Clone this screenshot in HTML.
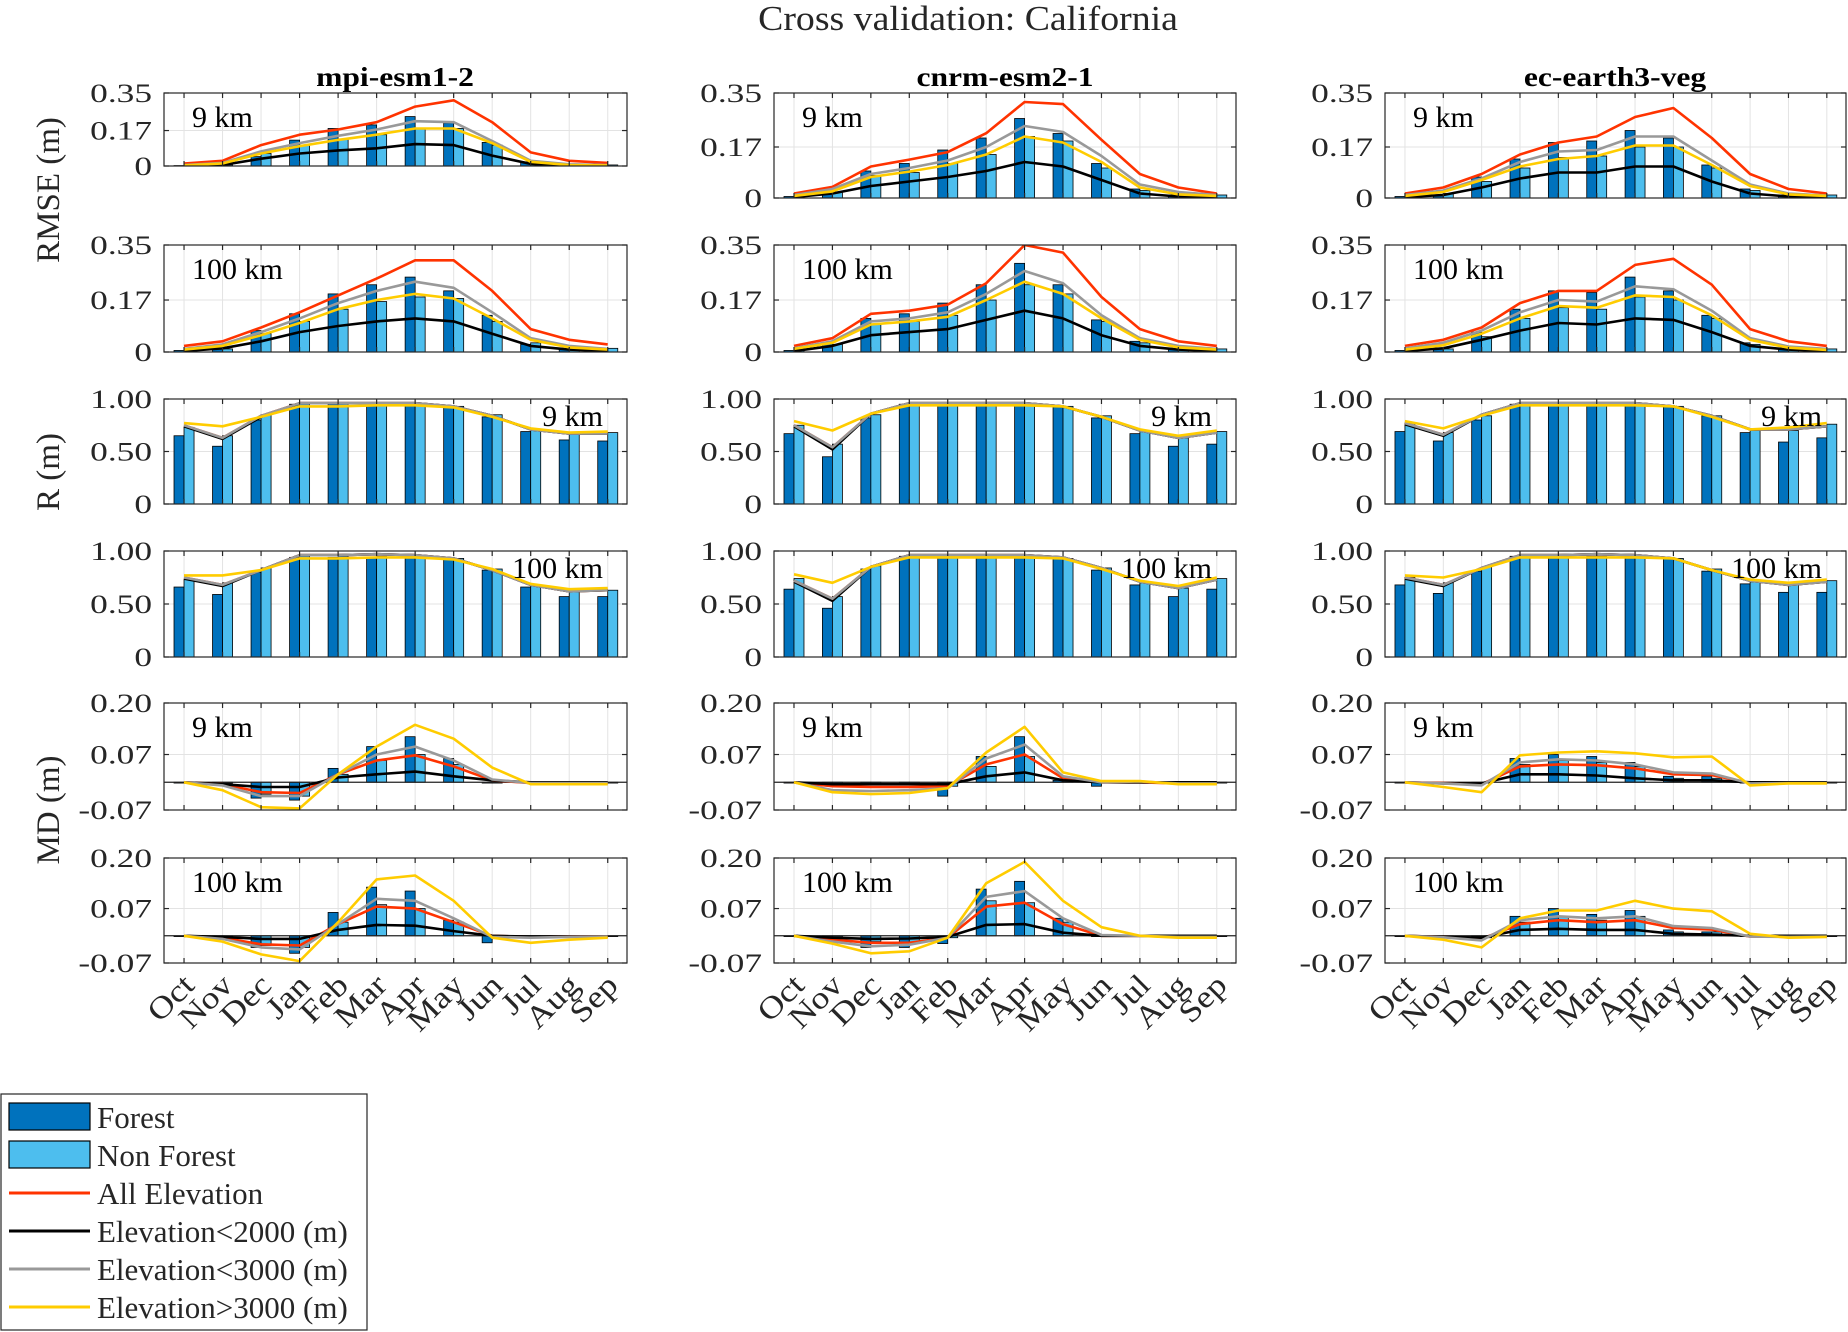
<!DOCTYPE html>
<html><head><meta charset="utf-8"><style>
body{margin:0;background:#fff;}
svg{display:block;font-family:"Liberation Serif",serif;}
</style></head><body>
<svg id="fig" width="1848" height="1332" viewBox="0 0 1848 1332" xmlns="http://www.w3.org/2000/svg">
<text transform="translate(968,30) scale(1.08,1)" font-size="35" text-anchor="middle" fill="#262626">Cross validation: California</text>
<text transform="translate(395,86) scale(1.17,1)" font-size="27" font-weight="bold" text-anchor="middle" fill="#000">mpi-esm1-2</text>
<text transform="translate(1005,86) scale(1.17,1)" font-size="27" font-weight="bold" text-anchor="middle" fill="#000">cnrm-esm2-1</text>
<text transform="translate(1615,86) scale(1.17,1)" font-size="27" font-weight="bold" text-anchor="middle" fill="#000">ec-earth3-veg</text>
<text transform="translate(59,190) rotate(-90)" font-size="33" text-anchor="middle" fill="#262626">RMSE (m)</text>
<text transform="translate(59,472) rotate(-90)" font-size="33" text-anchor="middle" fill="#262626">R (m)</text>
<text transform="translate(59,810) rotate(-90)" font-size="33" text-anchor="middle" fill="#262626">MD (m)</text>
<g id="panels"></g>
<g>
<rect x="1" y="1094" width="366" height="236" fill="#fff" stroke="#262626" stroke-width="1.2"/>
<g><rect x="9" y="1103" width="81" height="27" fill="#0072BD" stroke="#000" stroke-width="1.2"/><text x="97" y="1128" font-size="31" fill="#262626">Forest</text></g>
<g><rect x="9" y="1141" width="81" height="27" fill="#4DBEEE" stroke="#000" stroke-width="1.2"/><text x="97" y="1166" font-size="31" fill="#262626">Non Forest</text></g>
<g><line x1="9" y1="1193" x2="90" y2="1193" stroke="#FF3300" stroke-width="3"/><text x="97" y="1204" font-size="31" fill="#262626">All Elevation</text></g>
<g><line x1="9" y1="1231" x2="90" y2="1231" stroke="#000" stroke-width="3"/><text x="97" y="1242" font-size="31" fill="#262626">Elevation&lt;2000 (m)</text></g>
<g><line x1="9" y1="1269" x2="90" y2="1269" stroke="#999" stroke-width="3"/><text x="97" y="1280" font-size="31" fill="#262626">Elevation&lt;3000 (m)</text></g>
<g><line x1="9" y1="1307" x2="90" y2="1307" stroke="#FFCC00" stroke-width="3"/><text x="97" y="1318" font-size="31" fill="#262626">Elevation&gt;3000 (m)</text></g>
</g>
</svg>
<script>
const months = ["Oct","Nov","Dec","Jan","Feb","Mar","Apr","May","Jun","Jul","Aug","Sep"];
const rmseTicks = [0,0.17,0.35];
const rmseTickLabels = ["0","0.17","0.35"];
const rTicks = [0,0.5,1];
const rTickLabels = ["0","0.50","1.00"];
const mdTicks = [-0.07,0.07,0.2];
const mdTickLabels = ["-0.07","0.07","0.20"];

// mpi-esm1-2
const mpiRmse9Forest = [0.002,0.005,0.045,0.124,0.18,0.197,0.237,0.206,0.113,0.02,0.005,0.003];
const mpiRmse9NonForest = [0.003,0.005,0.06,0.1,0.13,0.15,0.18,0.18,0.1,0.01,0.003,0.005];
const mpiRmse9All = [0.012,0.025,0.1,0.15,0.175,0.21,0.285,0.315,0.21,0.065,0.025,0.015];
const mpiRmse9Lt2000 = [0,0.005,0.035,0.06,0.075,0.085,0.105,0.1,0.05,0.01,0,0];
const mpiRmse9Lt3000 = [0.005,0.015,0.07,0.11,0.145,0.175,0.215,0.21,0.12,0.025,0.008,0.005];
const mpiRmse9Gt3000 = [0.003,0.012,0.06,0.095,0.125,0.15,0.18,0.18,0.11,0.02,0.005,0.003];
const mpiRmse100Forest = [0.005,0.01,0.07,0.125,0.19,0.22,0.245,0.2,0.12,0.025,0.01,0.005];
const mpiRmse100NonForest = [0.005,0.01,0.06,0.1,0.14,0.165,0.18,0.175,0.1,0.03,0.01,0.012];
const mpiRmse100All = [0.02,0.035,0.08,0.13,0.185,0.24,0.3,0.3,0.2,0.075,0.04,0.025];
const mpiRmse100Lt2000 = [0.003,0.012,0.035,0.065,0.085,0.1,0.11,0.1,0.06,0.02,0.008,0.003];
const mpiRmse100Lt3000 = [0.01,0.025,0.065,0.11,0.16,0.2,0.23,0.21,0.13,0.045,0.02,0.01];
const mpiRmse100Gt3000 = [0.008,0.02,0.055,0.095,0.14,0.17,0.19,0.175,0.11,0.04,0.015,0.008];
const mpiR9Forest = [0.65,0.55,0.8,0.95,0.95,0.95,0.95,0.93,0.83,0.69,0.61,0.6];
const mpiR9NonForest = [0.73,0.65,0.85,0.95,0.95,0.95,0.95,0.93,0.85,0.71,0.67,0.68];
const mpiR9All = [0.75,0.63,0.84,0.96,0.96,0.96,0.96,0.93,0.84,0.71,0.67,0.67];
const mpiR9Lt2000 = [0.74,0.62,0.83,0.96,0.96,0.96,0.96,0.93,0.84,0.71,0.67,0.67];
const mpiR9Lt3000 = [0.75,0.63,0.84,0.96,0.96,0.96,0.96,0.93,0.84,0.71,0.67,0.67];
const mpiR9Gt3000 = [0.77,0.74,0.83,0.93,0.93,0.94,0.94,0.92,0.83,0.72,0.68,0.69];
const mpiR100Forest = [0.66,0.59,0.8,0.94,0.94,0.94,0.94,0.93,0.82,0.66,0.57,0.57];
const mpiR100NonForest = [0.73,0.7,0.84,0.95,0.95,0.95,0.95,0.93,0.83,0.68,0.62,0.63];
const mpiR100All = [0.75,0.68,0.82,0.96,0.96,0.97,0.96,0.93,0.82,0.68,0.62,0.63];
const mpiR100Lt2000 = [0.74,0.67,0.82,0.96,0.96,0.97,0.96,0.93,0.82,0.68,0.62,0.63];
const mpiR100Lt3000 = [0.75,0.68,0.82,0.96,0.96,0.97,0.96,0.93,0.82,0.68,0.62,0.63];
const mpiR100Gt3000 = [0.77,0.77,0.82,0.93,0.93,0.94,0.94,0.92,0.83,0.69,0.64,0.65];
const mpiMd9Forest = [0,0,-0.04,-0.045,0.035,0.09,0.115,0.06,0,0,0,0];
const mpiMd9NonForest = [0,0,-0.03,-0.035,0.02,0.055,0.07,0.045,0,0,0,0];
const mpiMd9All = [0,-0.005,-0.025,-0.027,0.02,0.055,0.068,0.04,0.005,-0.002,-0.002,-0.002];
const mpiMd9Lt2000 = [0,-0.005,-0.012,-0.012,0.012,0.02,0.027,0.015,0.005,0,0,0];
const mpiMd9Lt3000 = [0,-0.008,-0.035,-0.035,0.02,0.07,0.09,0.055,0.007,-0.002,-0.002,-0.002];
const mpiMd9Gt3000 = [0,-0.02,-0.063,-0.066,0.02,0.09,0.145,0.11,0.037,-0.005,-0.005,-0.005];
const mpiMd100Forest = [0,0,-0.03,-0.045,0.06,0.125,0.115,0.04,-0.018,0,0,0];
const mpiMd100NonForest = [0,0,-0.025,-0.03,0.035,0.08,0.07,0.035,0,0,0,0];
const mpiMd100All = [0,-0.005,-0.022,-0.025,0.03,0.075,0.07,0.035,0,-0.003,-0.002,-0.002];
const mpiMd100Lt2000 = [0,-0.003,-0.008,-0.008,0.015,0.028,0.026,0.012,0,-0.002,-0.002,-0.002];
const mpiMd100Lt3000 = [0,-0.008,-0.03,-0.035,0.03,0.095,0.09,0.045,-0.003,-0.005,-0.003,-0.002];
const mpiMd100Gt3000 = [0,-0.015,-0.048,-0.065,0.035,0.145,0.155,0.09,-0.005,-0.018,-0.01,-0.005];

// cnrm-esm2-1
const cnrmRmse9Forest = [0.005,0.02,0.09,0.115,0.16,0.2,0.265,0.215,0.115,0.03,0.01,0.005];
const cnrmRmse9NonForest = [0.005,0.02,0.075,0.085,0.115,0.145,0.205,0.19,0.1,0.025,0.01,0.01];
const cnrmRmse9All = [0.015,0.037,0.105,0.128,0.153,0.216,0.32,0.313,0.194,0.08,0.035,0.015];
const cnrmRmse9Lt2000 = [0.003,0.015,0.04,0.055,0.07,0.09,0.12,0.105,0.06,0.015,0.005,0.002];
const cnrmRmse9Lt3000 = [0.01,0.03,0.08,0.1,0.125,0.17,0.24,0.22,0.14,0.045,0.02,0.01];
const cnrmRmse9Gt3000 = [0.007,0.022,0.07,0.088,0.11,0.145,0.205,0.185,0.12,0.035,0.012,0.007];
const cnrmRmse100Forest = [0.005,0.03,0.11,0.125,0.16,0.22,0.29,0.22,0.105,0.035,0.01,0.005];
const cnrmRmse100NonForest = [0.005,0.025,0.09,0.1,0.12,0.17,0.22,0.19,0.1,0.03,0.01,0.01];
const cnrmRmse100All = [0.02,0.045,0.125,0.135,0.155,0.225,0.35,0.325,0.18,0.075,0.035,0.02];
const cnrmRmse100Lt2000 = [0.003,0.02,0.055,0.065,0.075,0.105,0.135,0.11,0.055,0.02,0.008,0.003];
const cnrmRmse100Lt3000 = [0.012,0.035,0.1,0.11,0.13,0.19,0.265,0.225,0.12,0.045,0.02,0.01];
const cnrmRmse100Gt3000 = [0.01,0.03,0.09,0.1,0.115,0.17,0.23,0.19,0.11,0.04,0.015,0.008];
const cnrmR9Forest = [0.67,0.45,0.82,0.95,0.95,0.95,0.95,0.93,0.82,0.67,0.55,0.57];
const cnrmR9NonForest = [0.75,0.57,0.85,0.95,0.95,0.95,0.95,0.93,0.84,0.7,0.63,0.69];
const cnrmR9All = [0.75,0.54,0.86,0.96,0.96,0.96,0.96,0.93,0.83,0.7,0.63,0.68];
const cnrmR9Lt2000 = [0.74,0.52,0.86,0.96,0.96,0.96,0.96,0.93,0.83,0.7,0.63,0.68];
const cnrmR9Lt3000 = [0.75,0.54,0.86,0.96,0.96,0.96,0.96,0.93,0.83,0.7,0.63,0.68];
const cnrmR9Gt3000 = [0.79,0.7,0.86,0.94,0.94,0.94,0.94,0.93,0.83,0.71,0.65,0.7];
const cnrmR100Forest = [0.64,0.46,0.83,0.95,0.95,0.95,0.95,0.93,0.82,0.68,0.57,0.64];
const cnrmR100NonForest = [0.74,0.57,0.86,0.95,0.95,0.95,0.95,0.93,0.84,0.7,0.65,0.74];
const cnrmR100All = [0.72,0.55,0.85,0.96,0.96,0.96,0.96,0.94,0.84,0.71,0.65,0.73];
const cnrmR100Lt2000 = [0.71,0.53,0.85,0.96,0.96,0.96,0.96,0.94,0.84,0.71,0.65,0.73];
const cnrmR100Lt3000 = [0.72,0.55,0.85,0.96,0.96,0.96,0.96,0.94,0.84,0.71,0.65,0.73];
const cnrmR100Gt3000 = [0.78,0.7,0.85,0.94,0.94,0.94,0.94,0.93,0.83,0.72,0.67,0.75];
const cnrmMd9Forest = [0,-0.003,-0.005,-0.005,-0.035,0.065,0.115,0.005,-0.01,0,0,0];
const cnrmMd9NonForest = [0,-0.003,-0.005,-0.005,-0.01,0.04,0.065,0.005,0,0,0,0];
const cnrmMd9All = [0,-0.01,-0.012,-0.012,-0.01,0.045,0.07,0.01,0,0,-0.003,-0.003];
const cnrmMd9Lt2000 = [0,-0.005,-0.005,-0.005,-0.005,0.015,0.025,0.005,0,0,0,0];
const cnrmMd9Lt3000 = [0,-0.02,-0.022,-0.02,-0.015,0.06,0.095,0.015,0,0.002,-0.003,-0.003];
const cnrmMd9Gt3000 = [0,-0.025,-0.03,-0.027,-0.015,0.075,0.14,0.025,0.003,0.003,-0.005,-0.005];
const cnrmMd100Forest = [0,-0.003,-0.03,-0.03,-0.02,0.12,0.14,0.045,0,0,0,0];
const cnrmMd100NonForest = [0,-0.003,-0.015,-0.02,-0.005,0.09,0.085,0.035,0,0,0,0];
const cnrmMd100All = [0,-0.01,-0.018,-0.018,-0.005,0.075,0.085,0.03,0,0,-0.002,-0.002];
const cnrmMd100Lt2000 = [0,-0.005,-0.008,-0.007,-0.003,0.028,0.03,0.008,0,0,0,0];
const cnrmMd100Lt3000 = [0,-0.015,-0.027,-0.023,-0.005,0.1,0.115,0.045,0.002,0,-0.003,-0.003];
const cnrmMd100Gt3000 = [0,-0.02,-0.045,-0.04,-0.005,0.135,0.19,0.09,0.022,0,-0.005,-0.005];

// ec-earth3-veg
const ecRmse9Forest = [0.005,0.01,0.07,0.13,0.185,0.19,0.225,0.2,0.11,0.03,0.01,0.005];
const ecRmse9NonForest = [0.005,0.015,0.055,0.1,0.135,0.14,0.17,0.17,0.1,0.025,0.008,0.01];
const ecRmse9All = [0.015,0.035,0.08,0.145,0.185,0.205,0.27,0.3,0.2,0.08,0.03,0.015];
const ecRmse9Lt2000 = [0.003,0.01,0.035,0.065,0.085,0.085,0.105,0.105,0.055,0.015,0.005,0.002];
const ecRmse9Lt3000 = [0.01,0.025,0.065,0.12,0.155,0.16,0.205,0.205,0.125,0.045,0.015,0.008];
const ecRmse9Gt3000 = [0.007,0.02,0.06,0.105,0.13,0.14,0.175,0.175,0.11,0.04,0.012,0.007];
const ecRmse100Forest = [0.005,0.012,0.065,0.14,0.2,0.195,0.245,0.2,0.12,0.03,0.01,0.005];
const ecRmse100NonForest = [0.005,0.01,0.05,0.11,0.145,0.14,0.18,0.17,0.11,0.025,0.008,0.01];
const ecRmse100All = [0.02,0.04,0.08,0.16,0.2,0.2,0.285,0.305,0.22,0.075,0.035,0.02];
const ecRmse100Lt2000 = [0.003,0.012,0.04,0.07,0.095,0.09,0.11,0.105,0.065,0.02,0.008,0.003];
const ecRmse100Lt3000 = [0.012,0.03,0.07,0.13,0.17,0.165,0.215,0.205,0.135,0.045,0.018,0.01];
const ecRmse100Gt3000 = [0.008,0.022,0.06,0.11,0.15,0.145,0.185,0.18,0.12,0.04,0.014,0.007];
const ecR9Forest = [0.69,0.6,0.8,0.95,0.95,0.94,0.95,0.93,0.84,0.68,0.59,0.63];
const ecR9NonForest = [0.77,0.68,0.84,0.95,0.95,0.95,0.95,0.93,0.84,0.7,0.7,0.76];
const ecR9All = [0.77,0.66,0.85,0.96,0.96,0.96,0.96,0.93,0.84,0.71,0.71,0.74];
const ecR9Lt2000 = [0.76,0.65,0.85,0.96,0.96,0.96,0.96,0.93,0.84,0.71,0.71,0.74];
const ecR9Lt3000 = [0.77,0.66,0.85,0.96,0.96,0.96,0.96,0.93,0.84,0.71,0.71,0.74];
const ecR9Gt3000 = [0.79,0.72,0.84,0.94,0.94,0.94,0.94,0.93,0.83,0.71,0.73,0.77];
const ecR100Forest = [0.68,0.6,0.81,0.95,0.95,0.95,0.95,0.93,0.81,0.69,0.61,0.61];
const ecR100NonForest = [0.75,0.7,0.85,0.95,0.95,0.95,0.95,0.93,0.83,0.71,0.69,0.72];
const ecR100All = [0.75,0.68,0.84,0.96,0.96,0.97,0.96,0.93,0.82,0.72,0.68,0.71];
const ecR100Lt2000 = [0.74,0.67,0.84,0.96,0.96,0.97,0.96,0.93,0.82,0.72,0.68,0.71];
const ecR100Lt3000 = [0.75,0.68,0.84,0.96,0.96,0.97,0.96,0.93,0.82,0.72,0.68,0.71];
const ecR100Gt3000 = [0.77,0.75,0.83,0.94,0.94,0.94,0.94,0.93,0.82,0.73,0.7,0.73];
const ecMd9Forest = [0,0,0,0.06,0.07,0.065,0.05,0.015,0.015,0,0,0];
const ecMd9NonForest = [0,0,0,0.045,0.055,0.05,0.04,0.01,0.01,0,0,0];
const ecMd9All = [0,-0.002,-0.005,0.04,0.045,0.043,0.035,0.02,0.018,-0.002,-0.002,-0.002];
const ecMd9Lt2000 = [0,-0.003,-0.003,0.02,0.02,0.017,0.01,0.005,0.005,0,0,0];
const ecMd9Lt3000 = [0,-0.003,-0.008,0.05,0.058,0.055,0.045,0.025,0.022,-0.003,-0.002,-0.002];
const ecMd9Gt3000 = [0,-0.012,-0.025,0.068,0.075,0.078,0.073,0.063,0.065,-0.008,-0.003,-0.003];
const ecMd100Forest = [0,0,0,0.05,0.07,0.055,0.065,0.015,0.01,0,0,0];
const ecMd100NonForest = [0,0,-0.005,0.035,0.05,0.04,0.05,0.01,0.01,0,0,0];
const ecMd100All = [0,-0.003,-0.008,0.03,0.04,0.035,0.04,0.02,0.016,-0.002,-0.002,-0.002];
const ecMd100Lt2000 = [0,-0.003,-0.005,0.015,0.018,0.015,0.015,0.005,0.003,0,0,0];
const ecMd100Lt3000 = [0,-0.004,-0.012,0.04,0.05,0.045,0.05,0.025,0.02,-0.002,-0.003,-0.002];
const ecMd100Gt3000 = [0,-0.01,-0.03,0.045,0.065,0.065,0.09,0.07,0.063,0.005,-0.005,-0.003];

const NS = "http://www.w3.org/2000/svg";
const colX = [[164,627],[774,1236],[1385,1846]];
const colKeys = ["mpi","cnrm","ec"];
const rowDefs = [
  {key:"rmse9",  top:93,  bot:[166,198,198], kind:"rmse", label:"9 km", pos:"left"},
  {key:"rmse100",top:245, bot:[352,352,352], kind:"rmse", label:"100 km", pos:"left"},
  {key:"r9",     top:399, bot:[504,504,504], kind:"r", label:"9 km", pos:"right"},
  {key:"r100",   top:551, bot:[657,657,657], kind:"r", label:"100 km", pos:"right"},
  {key:"md9",    top:703, bot:[810,810,810], kind:"md", label:"9 km", pos:"left"},
  {key:"md100",  top:858, bot:[963,963,963], kind:"md", label:"100 km", pos:"left"}
];
const series = {
  mpi:{rmse9:[mpiRmse9Forest,mpiRmse9NonForest,mpiRmse9All,mpiRmse9Lt2000,mpiRmse9Lt3000,mpiRmse9Gt3000],
       rmse100:[mpiRmse100Forest,mpiRmse100NonForest,mpiRmse100All,mpiRmse100Lt2000,mpiRmse100Lt3000,mpiRmse100Gt3000],
       r9:[mpiR9Forest,mpiR9NonForest,mpiR9All,mpiR9Lt2000,mpiR9Lt3000,mpiR9Gt3000],
       r100:[mpiR100Forest,mpiR100NonForest,mpiR100All,mpiR100Lt2000,mpiR100Lt3000,mpiR100Gt3000],
       md9:[mpiMd9Forest,mpiMd9NonForest,mpiMd9All,mpiMd9Lt2000,mpiMd9Lt3000,mpiMd9Gt3000],
       md100:[mpiMd100Forest,mpiMd100NonForest,mpiMd100All,mpiMd100Lt2000,mpiMd100Lt3000,mpiMd100Gt3000]},
  cnrm:{rmse9:[cnrmRmse9Forest,cnrmRmse9NonForest,cnrmRmse9All,cnrmRmse9Lt2000,cnrmRmse9Lt3000,cnrmRmse9Gt3000],
       rmse100:[cnrmRmse100Forest,cnrmRmse100NonForest,cnrmRmse100All,cnrmRmse100Lt2000,cnrmRmse100Lt3000,cnrmRmse100Gt3000],
       r9:[cnrmR9Forest,cnrmR9NonForest,cnrmR9All,cnrmR9Lt2000,cnrmR9Lt3000,cnrmR9Gt3000],
       r100:[cnrmR100Forest,cnrmR100NonForest,cnrmR100All,cnrmR100Lt2000,cnrmR100Lt3000,cnrmR100Gt3000],
       md9:[cnrmMd9Forest,cnrmMd9NonForest,cnrmMd9All,cnrmMd9Lt2000,cnrmMd9Lt3000,cnrmMd9Gt3000],
       md100:[cnrmMd100Forest,cnrmMd100NonForest,cnrmMd100All,cnrmMd100Lt2000,cnrmMd100Lt3000,cnrmMd100Gt3000]},
  ec:{rmse9:[ecRmse9Forest,ecRmse9NonForest,ecRmse9All,ecRmse9Lt2000,ecRmse9Lt3000,ecRmse9Gt3000],
       rmse100:[ecRmse100Forest,ecRmse100NonForest,ecRmse100All,ecRmse100Lt2000,ecRmse100Lt3000,ecRmse100Gt3000],
       r9:[ecR9Forest,ecR9NonForest,ecR9All,ecR9Lt2000,ecR9Lt3000,ecR9Gt3000],
       r100:[ecR100Forest,ecR100NonForest,ecR100All,ecR100Lt2000,ecR100Lt3000,ecR100Gt3000],
       md9:[ecMd9Forest,ecMd9NonForest,ecMd9All,ecMd9Lt2000,ecMd9Lt3000,ecMd9Gt3000],
       md100:[ecMd100Forest,ecMd100NonForest,ecMd100All,ecMd100Lt2000,ecMd100Lt3000,ecMd100Gt3000]}
};
const lineColors = ["#FF3300","#000000","#999999","#FFCC00"];
const lineNames = ["all-elevation","elev-lt-2000","elev-lt-3000","elev-gt-3000"];
const lineOrder = [0,1,2,3];

function mk(tag, attrs, parent){
  const e = document.createElementNS(NS, tag);
  for (const k in attrs) e.setAttribute(k, attrs[k]);
  parent.appendChild(e);
  return e;
}
const root = document.getElementById("panels");
let clipId = 0;
colKeys.forEach((ck, ci) => {
  const [L, R] = colX[ci];
  const xScale = m => L + (m + 1 - 0.48) / 12.02 * (R - L);
  rowDefs.forEach((rd, ri) => {
    const T = rd.top, B = rd.bot[ci];
    let ymin, ymax, ticks, tlabels;
    if (rd.kind === "rmse") { ymin = 0; ymax = 0.35; ticks = rmseTicks; tlabels = rmseTickLabels; }
    else if (rd.kind === "r") { ymin = 0; ymax = 1; ticks = rTicks; tlabels = rTickLabels; }
    else { ymin = -0.07; ymax = 0.2; ticks = mdTicks; tlabels = mdTickLabels; }
    const yScale = v => B - (v - ymin) / (ymax - ymin) * (B - T);
    const g = mk("g", {}, root);
    
    
    mk("rect", {x:L, y:T, width:R-L, height:B-T, fill:"#fff"}, g);
    const grid = mk("g", {stroke:"#e3e3e3", "stroke-width":1}, g);
    
    
    months.forEach((m, i) => { const x = xScale(i); mk("line", {x1:x, y1:T, x2:x, y2:B}, grid); });
    ticks.forEach(t => { const y = yScale(t); mk("line", {x1:L, y1:y, x2:R, y2:y}, grid); });
    const cid = "clip" + (clipId++);
    const cp = mk("clipPath", {id:cid}, g);
    mk("rect", {x:L, y:T, width:R-L, height:B-T}, cp);
    const plot = mk("g", {"clip-path":"url(#"+cid+")"}, g);
    const data = series[ck][rd.key];
    const bw = 0.26 / 12.02 * (R - L);
    const y0 = yScale(ymin < 0 ? 0 : ymin);
    [0,1].forEach(si => {
      const vals = data[si];
      vals.forEach((v, i) => {
        const x = xScale(i) + (si === 0 ? -bw : 0);
        const yv = yScale(v);
        const b = mk("rect", {x:x, y:Math.min(yv, y0), width:bw, height:Math.max(Math.abs(y0 - yv), 0.8),
          fill: si === 0 ? "#0072BD" : "#4DBEEE", stroke:"#000", "stroke-width":0.8}, plot);
        
        
      });
    });
    if (rd.kind === "md") {
      const zl = mk("line", {x1:L, y1:yScale(0), x2:R, y2:yScale(0), stroke:"#222", "stroke-width":1.2}, plot);
      
      
    }
    lineOrder.forEach(li => {
      const vals = data[2 + li];
      const pts = vals.map((v, i) => xScale(i).toFixed(1) + "," + yScale(v).toFixed(1)).join(" ");
      const pl = mk("polyline", {points:pts, fill:"none", stroke:lineColors[li], "stroke-width":2.6, "stroke-linejoin":"round"}, plot);
      
      
    });
    const ax = mk("g", {stroke:"#262626", "stroke-width":1.2, fill:"none"}, g);
    
    
    mk("rect", {x:L, y:T, width:R-L, height:B-T}, ax);
    months.forEach((m, i) => { const x = xScale(i);
      mk("line", {x1:x, y1:B, x2:x, y2:B-5}, ax); mk("line", {x1:x, y1:T, x2:x, y2:T+5}, ax); });
    ticks.forEach(t => { const y = yScale(t);
      mk("line", {x1:L, y1:y, x2:L+5, y2:y}, ax); mk("line", {x1:R, y1:y, x2:R-5, y2:y}, ax); });
    ticks.forEach((t, k) => {
      const tx = mk("text", {transform:"translate(" + (L-12) + "," + (yScale(t)+9) + ") scale(1.36,1)", "font-size":26, "text-anchor":"end", fill:"#262626"}, g);
      tx.textContent = tlabels[k];
      
      
    });
    const lab = rd.pos === "left"
      ? mk("text", {x:L+28, y:T+34, "font-size":30, fill:"#000"}, g)
      : mk("text", {x:R-24, y:T+27, "font-size":30, "text-anchor":"end", fill:"#000"}, g);
    lab.textContent = rd.label;
    
    
    if (ri === rowDefs.length - 1) {
      months.forEach((m, i) => {
        const x = xScale(i) + 12, y = B + 24;
        const tx = mk("text", {transform:"translate("+x+","+y+") rotate(-45) scale(1.15,1)", "font-size":31, "text-anchor":"end", fill:"#262626"}, g);
        tx.textContent = m;
        
        
      });
    }
  });
});
</script>
</body></html>
